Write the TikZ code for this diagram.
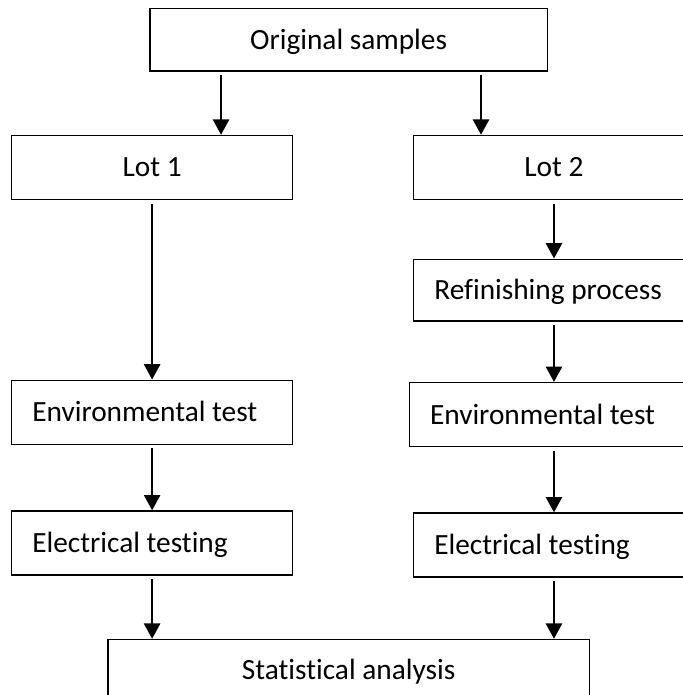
\documentclass[tikz,border=0pt]{standalone}
\usepackage{fontspec}
\setmainfont{Carlito}[Ligatures=NoCommon]
\usetikzlibrary{positioning,calc,arrows.meta}

\tikzset{
  box/.style={draw, line width=1.1pt, minimum height=48pt, text height=19.5pt, text depth=5.4pt, font=\fontsize{22}{26}\selectfont},
  midbox/.style={box, align=center, minimum width=#1},
  leftbox/.style={box, align=flush left, inner xsep=15.5pt, text width=#1},
  arr/.style={-{Triangle[width=12pt,length=11.5pt]}, line width=1.9pt, shorten <=2.5pt},
}

\begin{document}
\begin{tikzpicture}
\path[use as bounding box, clip] (-261.5pt,29.8pt) rectangle (250.7pt,-491.5pt);
\node[midbox=298pt, minimum height=47pt] (orig) {Original samples};
\node[midbox=210.75pt, below=47.25pt of orig, xshift=-147.4pt] (lot1) {Lot 1};
\node[midbox=210.5pt, right=89.7pt of lot1] (lot2) {Lot 2};
\node[leftbox=179.75pt, below=134.5pt of lot1] (env1) {Environmental test};
\node[leftbox=179.75pt, below=49pt of env1] (elec1) {Electrical testing};
\node[leftbox=179.5pt, minimum height=46.3pt, below=43.7pt of lot2] (refin) {Refinishing process};
\node[leftbox=182.75pt, below=45.2pt of refin, xshift=-1.6pt] (env2) {Environmental test};
\node[leftbox=179.5pt, below=48.75pt of env2, xshift=1.6pt] (elec2) {Electrical testing};
\node[midbox=361pt, minimum height=45.75pt, anchor=north, yshift=-47.25pt] (stat) at (orig.south |- elec1.south) {Statistical analysis};

\draw[arr] ($(orig.south west)!0.18!(orig.south east)$) coordinate (o1) -- (o1 |- lot1.north);
\draw[arr] ($(orig.south west)!0.832!(orig.south east)$) coordinate (o2) -- (o2 |- lot2.north);
\draw[arr] (lot1.south) -- (env1.north);
\draw[arr] (env1.south) -- (elec1.north);
\draw[arr] (elec1.south) -- (elec1.south |- stat.north);
\draw[arr] (lot2.south) -- (refin.north);
\draw[arr] (refin.south) -- (refin.south |- env2.north);
\draw[arr] (elec2.north |- env2.south) -- (elec2.north);
\draw[arr] (elec2.south) -- (elec2.south |- stat.north);
\end{tikzpicture}
\end{document}
